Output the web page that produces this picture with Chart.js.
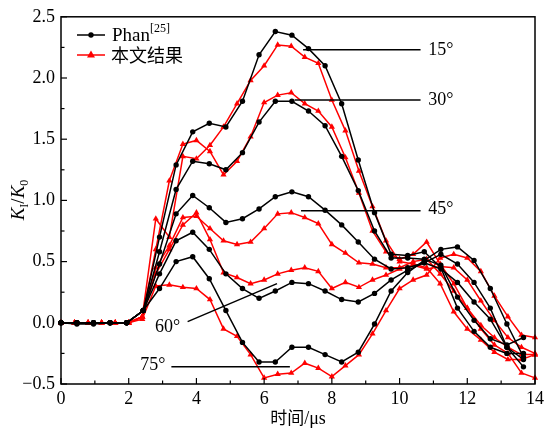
<!DOCTYPE html>
<html>
<head>
<meta charset="utf-8">
<script src="https://cdn.jsdelivr.net/npm/chart.js@4/dist/chart.umd.min.js"></script>
<style>
  html, body { margin: 0; padding: 0; background: #fff; }
  canvas { display: block; }
</style>
</head>
<body>
<canvas id="chart" width="548" height="429"></canvas>
<script>
// Time samples (µs)
const phanT = [0, 0.47, 0.96, 1.45, 1.94, 2.43, 2.91, 3.40, 3.89, 4.38, 4.87, 5.36, 5.85, 6.33, 6.82,
  7.31, 7.80, 8.29, 8.78, 9.26, 9.75, 10.24, 10.73, 11.22, 11.71, 12.20, 12.68, 13.17, 13.66];
const oursT = [0, 0.4, 0.8, 1.2, 1.6, 2.0, 2.4, 2.8, 3.2, 3.6, 4.0, 4.4, 4.8, 5.2, 5.6, 6.0, 6.4, 6.8,
  7.2, 7.6, 8.0, 8.4, 8.8, 9.2, 9.6, 10.0, 10.4, 10.8, 11.2, 11.6, 12.0, 12.4, 12.8, 13.2, 13.6, 14.0];

// Phan[25] K_I/K_0
const phan15 = [0, -0.01, -0.01, 0, 0, 0.10, 0.70, 1.29, 1.56, 1.63, 1.60, 1.81, 2.19, 2.38, 2.35,
  2.24, 2.10, 1.79, 1.33, 0.90, 0.56, 0.55, 0.58, 0.45, 0.12, -0.07, -0.20, -0.25, -0.25];
const phan30 = [0, 0, 0, 0, 0, 0.10, 0.58, 1.09, 1.32, 1.30, 1.25, 1.39, 1.64, 1.81, 1.81,
  1.73, 1.61, 1.36, 1.08, 0.75, 0.53, 0.53, 0.52, 0.47, 0.21, 0.02, -0.13, -0.18, -0.12];
const phan45 = [0, 0, 0, 0, 0, 0.10, 0.48, 0.89, 1.04, 0.94, 0.82, 0.85, 0.93, 1.03, 1.07,
  1.03, 0.92, 0.80, 0.66, 0.52, 0.44, 0.45, 0.49, 0.44, 0.33, 0.17, 0.03, -0.20, -0.36];
const phan60 = [0, 0, 0, 0, 0, 0.10, 0.40, 0.67, 0.74, 0.60, 0.40, 0.28, 0.20, 0.26, 0.33,
  0.32, 0.26, 0.19, 0.17, 0.24, 0.35, 0.43, 0.49, 0.56, 0.48, 0.33, 0.12, -0.20, -0.30];
const phan75 = [0, 0, 0, 0, 0, 0.10, 0.28, 0.50, 0.54, 0.36, 0.10, -0.16, -0.32, -0.32, -0.20,
  -0.20, -0.26, -0.32, -0.24, -0.01, 0.26, 0.41, 0.51, 0.60, 0.62, 0.51, 0.28, -0.01, -0.28];

// 本文结果 K_I/K_0
const ours15 = [0, 0, 0, 0, 0, 0, 0.05, 0.85, 0.70, 1.36, 1.34, 1.45, 1.60, 1.79, 1.98, 2.10, 2.27, 2.26,
  2.17, 2.12, 1.82, 1.57, 1.24, 0.95, 0.67, 0.50, 0.48, 0.45, 0.32, 0.09, -0.05, -0.14, -0.24, -0.30, -0.30, -0.26];
const ours30 = [0, 0, 0, 0, 0, 0, 0.05, 0.60, 1.16, 1.46, 1.49, 1.40, 1.21, 1.32, 1.52, 1.80, 1.86, 1.88,
  1.79, 1.73, 1.60, 1.35, 1.06, 0.75, 0.58, 0.52, 0.56, 0.66, 0.48, 0.32, 0.12, -0.05, -0.18, -0.25, -0.41, -0.45];
const ours45 = [0, 0, 0, 0, 0, 0, 0.05, 0.45, 0.63, 0.86, 0.87, 0.77, 0.67, 0.64, 0.66, 0.77, 0.89, 0.90,
  0.86, 0.81, 0.64, 0.57, 0.49, 0.48, 0.45, 0.45, 0.50, 0.52, 0.40, 0.26, 0.12, -0.02, -0.12, -0.20, -0.26, -0.26];
const ours60 = [0, 0, 0, 0, 0, 0, 0.05, 0.40, 0.60, 0.80, 0.90, 0.68, 0.41, 0.37, 0.32, 0.35, 0.40, 0.43,
  0.45, 0.42, 0.28, 0.33, 0.29, 0.35, 0.39, 0.44, 0.47, 0.44, 0.46, 0.45, 0.35, 0.18, 0.02, -0.12, -0.20, -0.25];
const ours75 = [0, 0, 0, 0, 0, 0, 0.03, 0.30, 0.31, 0.29, 0.28, 0.19, -0.05, -0.11, -0.26, -0.45, -0.42, -0.41,
  -0.33, -0.37, -0.44, -0.35, -0.26, -0.09, 0.10, 0.28, 0.35, 0.39, 0.53, 0.56, 0.53, 0.42, 0.22, 0.05, -0.10, -0.12];

const phanSeries = [phan15, phan30, phan45, phan60, phan75];
const oursSeries = [ours15, ours30, ours45, ours60, ours75];
const angleLabels = ['15°', '30°', '45°', '60°', '75°'];

// Leader lines for the angle labels (data coords)
const leaders = [
  { text: '15°', from: [7.15, 2.23], to: [10.62, 2.23], at: [10.85, 2.23] },
  { text: '30°', from: [6.90, 1.82], to: [10.62, 1.82], at: [10.85, 1.82] },
  { text: '45°', from: [7.09, 0.915], to: [10.62, 0.915], at: [10.85, 0.93] },
  { text: '60°', from: [3.74, 0.01], to: [6.38, 0.32], at: [2.78, -0.04] },
  { text: '75°', from: [3.26, -0.36], to: [6.76, -0.36], at: [2.34, -0.345] }
];

const serif = "'Liberation Serif', 'Times New Roman', serif";
const cjk = "'Noto Sans CJK SC', sans-serif";

const pts = (ts, vs) => ts.map((t, i) => ({ x: t, y: vs[i] }));

const datasets = [];
phanSeries.forEach((vs, i) => datasets.push({
  label: 'Phan ' + angleLabels[i],
  data: pts(phanT, vs),
  borderColor: '#000',
  backgroundColor: '#000',
  borderWidth: 1.5,
  pointStyle: 'circle',
  pointRadius: 2.7,
  pointBorderWidth: 0,
  tension: 0,
  clip: 6
}));
oursSeries.forEach((vs, i) => datasets.push({
  label: '本文结果 ' + angleLabels[i],
  data: pts(oursT, vs),
  borderColor: '#ff0000',
  backgroundColor: '#ff0000',
  borderWidth: 1.5,
  pointStyle: 'triangle',
  pointRadius: 3.6,
  pointBorderWidth: 0,
  tension: 0,
  clip: 6
}));

// Frame, inward ticks, labels, legend
const decorations = {
  id: 'decorations',
  afterDraw(chart) {
    const { ctx, chartArea: a, scales: { x, y } } = chart;
    const line = (x1, y1, x2, y2) => { ctx.beginPath(); ctx.moveTo(x1, y1); ctx.lineTo(x2, y2); ctx.stroke(); };
    ctx.save();
    ctx.strokeStyle = '#000';
    ctx.fillStyle = '#000';

    ctx.lineWidth = 1.5;
    ctx.strokeRect(a.left, a.top, a.right - a.left, a.bottom - a.top);

    ctx.lineWidth = 1.2;
    for (let v = 0; v <= 14; v++) {
      const px = x.getPixelForValue(v);
      line(px, a.bottom, px, a.bottom - (v % 2 === 0 ? 6 : 3.5));
    }
    for (let k = 0; k <= 12; k++) {
      const py = y.getPixelForValue(-0.5 + k * 0.25);
      line(a.left, py, a.left + (k % 2 === 0 ? 6 : 3.5), py);
    }

    // angle leaders
    ctx.lineWidth = 1.5;
    ctx.font = '18px ' + serif;
    ctx.textBaseline = 'middle';
    ctx.textAlign = 'left';
    leaders.forEach(l => {
      line(x.getPixelForValue(l.from[0]), y.getPixelForValue(l.from[1]),
           x.getPixelForValue(l.to[0]), y.getPixelForValue(l.to[1]));
      ctx.fillText(l.text, x.getPixelForValue(l.at[0]), y.getPixelForValue(l.at[1]));
    });

    // y title: K_I/K_0
    ctx.save();
    ctx.translate(18, 200);
    ctx.rotate(-Math.PI / 2);
    ctx.textBaseline = 'alphabetic';
    const parts = [
      ['italic 19px ' + serif, 'K', 0], ['12px ' + serif, 'I', 4],
      ['19px ' + serif, '/', 0], ['italic 19px ' + serif, 'K', 0], ['12px ' + serif, '0', 4]
    ];
    let w = 0;
    parts.forEach(p => { ctx.font = p[0]; w += ctx.measureText(p[1]).width; });
    let cx = -w / 2;
    parts.forEach(p => {
      ctx.font = p[0];
      ctx.fillText(p[1], cx, 6 + p[2]);
      cx += ctx.measureText(p[1]).width;
    });
    ctx.restore();

    // x title
    ctx.textBaseline = 'alphabetic';
    ctx.font = '17px ' + cjk;
    const t1 = '时间';
    const w1 = ctx.measureText(t1).width;
    ctx.font = '18px ' + serif;
    const t2 = '/μs';
    const w2 = ctx.measureText(t2).width;
    const sx = (a.left + a.right) / 2 - (w1 + w2) / 2;
    ctx.font = '17px ' + cjk;
    ctx.fillText(t1, sx, 424);
    ctx.font = '18px ' + serif;
    ctx.fillText(t2, sx + w1, 424);

    // legend
    ctx.lineWidth = 1.5;
    ctx.strokeStyle = '#000';
    line(77, 35, 105, 35);
    ctx.beginPath(); ctx.arc(91, 35, 2.7, 0, Math.PI * 2); ctx.fill();
    ctx.font = '19px ' + serif;
    ctx.textBaseline = 'middle';
    ctx.fillText('Phan', 112, 36);
    const pw = ctx.measureText('Phan').width;
    ctx.font = '12px ' + serif;
    ctx.fillText('[25]', 112 + pw, 29);

    ctx.strokeStyle = '#ff0000';
    ctx.fillStyle = '#ff0000';
    line(77, 55, 105, 55);
    ctx.beginPath(); ctx.moveTo(91, 50.5); ctx.lineTo(95, 57.5); ctx.lineTo(87, 57.5); ctx.closePath(); ctx.fill();
    ctx.fillStyle = '#000';
    ctx.font = '18px ' + cjk;
    ctx.fillText('本文结果', 111, 55);

    ctx.restore();
  }
};

new Chart(document.getElementById('chart'), {
  type: 'line',
  data: { datasets },
  options: {
    responsive: false,
    animation: false,
    layout: { padding: { left: 0, right: 11, top: 15, bottom: 0 } },
    plugins: { legend: { display: false }, tooltip: { enabled: false } },
    scales: {
      x: {
        type: 'linear', min: 0, max: 14,
        afterFit: s => { s.height = 45; },
        grid: { display: false, drawTicks: false },
        border: { display: false },
        ticks: { stepSize: 2, padding: 4, color: '#000', font: { family: serif, size: 18 }, maxRotation: 0 }
      },
      y: {
        min: -0.5, max: 2.5,
        afterFit: s => { s.width = 61; },
        grid: { display: false, drawTicks: false },
        border: { display: false },
        ticks: {
          stepSize: 0.5, padding: 6, color: '#000', font: { family: serif, size: 18 },
          callback: v => v.toFixed(1).replace('-', '−')
        }
      }
    }
  },
  plugins: [decorations]
});
</script>
</body>
</html>
